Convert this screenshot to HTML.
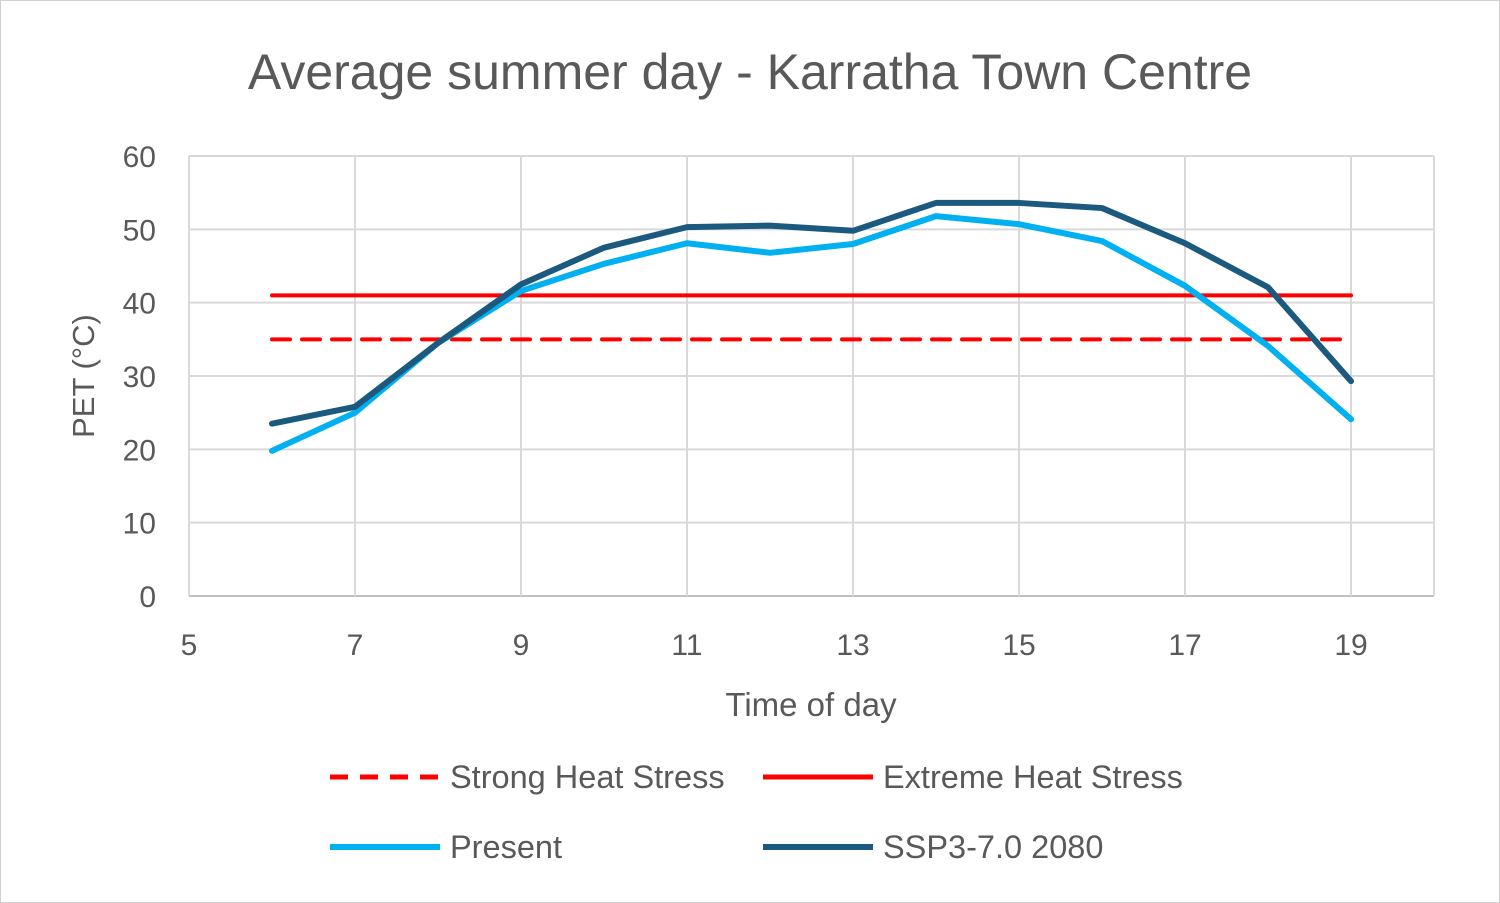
<!DOCTYPE html>
<html><head><meta charset="utf-8"><style>
html,body{margin:0;padding:0;background:#fff;}
svg{display:block;font-family:"Liberation Sans",sans-serif;}
</style></head><body>
<svg id="chart" width="1500" height="903" viewBox="0 0 1500 903">
<rect x="0.5" y="0.5" width="1499" height="902" fill="#fff" stroke="#d0d0d0"/>
<text x="750" y="89" text-anchor="middle" font-size="50" fill="#595959">Average summer day - Karratha Town Centre</text>
<g id="grid"></g>
<g id="ticks"></g>
<g id="series"></g>
<text transform="translate(94,376) rotate(-90)" text-anchor="middle" font-size="31" fill="#595959">PET (°C)</text>
<text x="811" y="716" text-anchor="middle" font-size="33" fill="#595959">Time of day</text>
<g>
<g><line x1="330" y1="777" x2="440" y2="777" stroke="#ff0000" stroke-width="5" stroke-dasharray="18,12"/><text x="450" y="788" font-size="32.5" fill="#595959">Strong Heat Stress</text></g>
<g><line x1="763" y1="777" x2="873" y2="777" stroke="#ff0000" stroke-width="5"/><text x="883" y="788" font-size="32.5" fill="#595959">Extreme Heat Stress</text></g>
<g><line x1="330" y1="847" x2="440" y2="847" stroke="#00b0f0" stroke-width="6"/><text x="450" y="858" font-size="32.5" fill="#595959">Present</text></g>
<g><line x1="763" y1="847" x2="873" y2="847" stroke="#1b5a7e" stroke-width="6"/><text x="883" y="858" font-size="32.5" fill="#595959">SSP3-7.0 2080</text></g>
</g>
</svg>
<script>
const hours = [6,7,8,9,10,11,12,13,14,15,16,17,18,19];
const presentValues = [19.8,25,34.5,41.6,45.3,48.1,46.8,48,51.8,50.7,48.4,42.3,34.1,24.1];
const sspValues = [23.5,25.8,34.5,42.5,47.5,50.3,50.5,49.8,53.6,53.6,52.9,48.1,42.1,29.3];
const strongThreshold = [35,35];
const extremeThreshold = [41,41];
const thresholdHours = [6,19];
const xTicks = [5,7,9,11,13,15,17,19];
const yTicks = [0,10,20,30,40,50,60];

const X0=189,X1=1434,Y0=596,Y1=156,xMin=5,xMax=20,yMin=0,yMax=60;
const xs=v=>X0+(v-xMin)/(xMax-xMin)*(X1-X0);
const ys=v=>Y0-(v-yMin)/(yMax-yMin)*(Y0-Y1);
const NS="http://www.w3.org/2000/svg";
function mk(tag,attrs,parent){const e=document.createElementNS(NS,tag);for(const k in attrs)e.setAttribute(k,attrs[k]);parent.appendChild(e);return e;}
const grid=document.getElementById('grid'),ticks=document.getElementById('ticks'),series=document.getElementById('series');
yTicks.forEach(t=>{
  const l=mk('line',{x1:X0,x2:X1,y1:ys(t),y2:ys(t),stroke:t===0?'#bfbfbf':'#d9d9d9','stroke-width':2},grid);
  
  
  const tx=mk('text',{x:156,y:ys(t)+11,'text-anchor':'end','font-size':30,fill:'#595959'},ticks);
  tx.textContent=t;
  
  
});
xTicks.concat([xMax]).forEach(t=>{
  const l=mk('line',{x1:xs(t),x2:xs(t),y1:Y1,y2:Y0,stroke:'#d9d9d9','stroke-width':2},grid);
  
  
});
xTicks.forEach(t=>{
  const tx=mk('text',{x:xs(t),y:655,'text-anchor':'middle','font-size':30,fill:'#595959'},ticks);
  tx.textContent=t;
  
  
});
function line(xv,yv,color,w,dash,name){
  const d=xv.map((x,i)=>(i?'L':'M')+xs(x)+','+ys(yv[i])).join(' ');
  const p=mk('path',{d:d,fill:'none',stroke:color,'stroke-width':w,'stroke-linejoin':'round','stroke-linecap':'round'},series);
  if(dash)p.setAttribute('stroke-dasharray',dash);
  
  
}
line(thresholdHours,strongThreshold,'#ff0000',4,'18,12','strong-heat-stress-line');
line(thresholdHours,extremeThreshold,'#ff0000',4,null,'extreme-heat-stress-line');
line(hours,presentValues,'#00b0f0',6,null,'present-line');
line(hours,sspValues,'#1b5a7e',6,null,'ssp-line');
</script>
</body></html>
